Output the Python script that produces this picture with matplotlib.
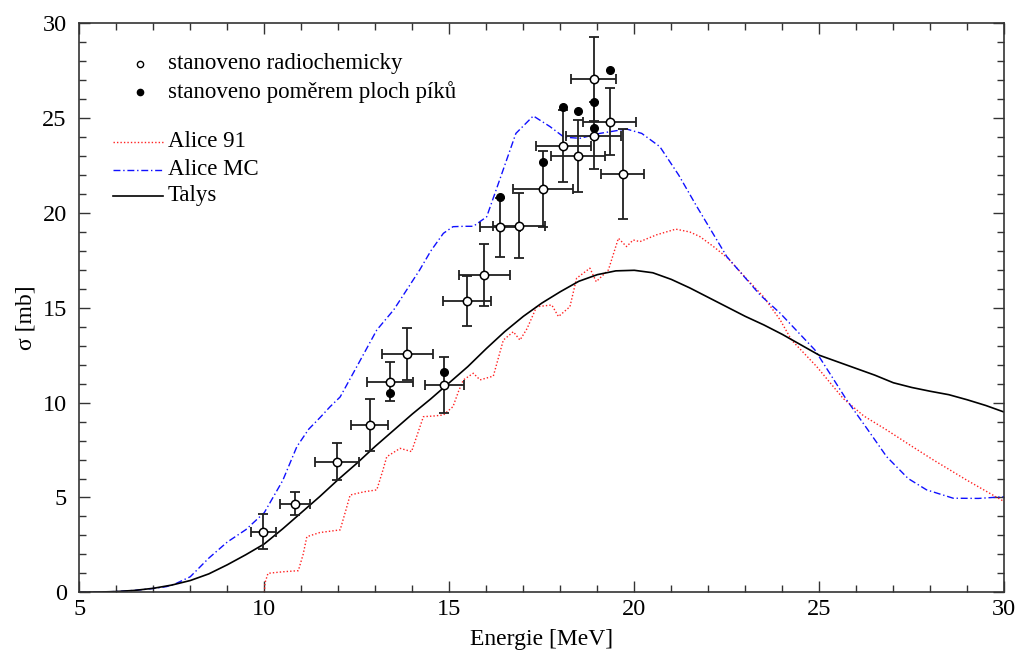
import matplotlib
matplotlib.use("Agg")
import matplotlib.pyplot as plt
from matplotlib.ticker import MultipleLocator

plt.rcParams["font.family"] = ["Liberation Serif", "DejaVu Serif"]

# experimental points - radiochemical determination (with errors)
rc_e = [9.97, 10.83, 11.96, 12.85, 13.39, 13.87, 14.87, 15.48, 15.95,
        16.37, 16.88, 17.53, 18.08, 18.48, 18.90, 18.90, 19.33, 19.69]
rc_s = [3.20, 4.67, 6.89, 8.82, 11.11, 12.57, 10.93, 15.36, 16.74,
        19.25, 19.34, 21.27, 23.52, 23.01, 27.07, 24.07, 24.82, 22.05]
rc_de = [0.34, 0.41, 0.60, 0.50, 0.62, 0.70, 0.54, 0.64, 0.70,
         0.54, 0.70, 0.82, 0.75, 0.73, 0.60, 0.74, 0.72, 0.58]
rc_ds = [0.91, 0.61, 0.98, 1.36, 1.04, 1.37, 1.49, 1.32, 1.64,
         1.55, 1.70, 2.02, 1.89, 1.92, 2.23, 1.76, 1.78, 2.39]

# experimental points - peak area ratio
pp_e = [13.39, 14.87, 16.37, 17.53, 18.08, 18.48, 18.90, 18.90, 19.33]
pp_s = [10.49, 11.64, 20.87, 22.68, 25.60, 25.38, 25.88, 24.47, 27.53]

# Talys
talys_e = [5.0, 5.5, 6.0, 6.5, 7.0, 7.5, 8.0, 8.5, 9.0, 9.5, 10.0, 10.5,
           11.0, 11.5, 12.0, 12.5, 13.0, 13.5, 14.0, 14.5, 15.0, 15.5, 16.0,
           16.5, 17.0, 17.5, 18.0, 18.5, 19.0, 19.5, 20.0, 20.5, 21.0, 21.5,
           22.0, 22.5, 23.0, 23.5, 24.0, 24.5, 25.0, 25.5, 26.0, 26.5, 27.0,
           27.5, 28.0, 28.5, 29.0, 29.5, 30.0]
talys_s = [0.0, 0.01, 0.04, 0.10, 0.21, 0.38, 0.62, 0.97, 1.45, 1.98, 2.55,
           3.35, 4.20, 5.05, 5.95, 6.80, 7.70, 8.55, 9.40, 10.20, 11.05,
           11.90, 12.85, 13.75, 14.55, 15.25, 15.85, 16.40, 16.75, 16.95,
           16.98, 16.85, 16.50, 16.05, 15.55, 15.05, 14.55, 14.10, 13.60,
           13.05, 12.50, 12.15, 11.80, 11.45, 11.05, 10.80, 10.60, 10.42,
           10.15, 9.85, 9.50]

# Alice MC
mc_e = [5.0, 5.5, 6.0, 6.5, 7.0, 7.36, 7.6, 8.0, 8.5, 9.0, 9.5, 10.0, 10.5,
        10.88, 11.2, 11.5, 11.78, 12.05, 12.5, 13.04, 13.5, 14.0, 14.2, 14.5,
        14.84, 15.1, 15.4, 15.65, 16.01, 16.37, 16.8, 17.27, 17.72, 18.1,
        18.53, 19.07, 19.79, 20.2, 20.69, 21.2, 21.69, 22.5, 23.4, 23.94,
        24.88, 25.74, 26.3, 26.82, 27.4, 27.9, 28.62, 29.3, 30.0]
mc_s = [0.0, 0.01, 0.04, 0.10, 0.20, 0.30, 0.45, 0.82, 1.80, 2.65, 3.30,
        4.20, 5.90, 7.68, 8.60, 9.20, 9.79, 10.30, 11.90, 13.83, 14.90,
        16.40, 17.00, 18.00, 18.93, 19.28, 19.30, 19.30, 19.80, 21.80,
        24.20, 25.12, 24.56, 24.00, 23.94, 24.20, 24.43, 24.20, 23.50,
        22.00, 20.34, 17.70, 15.68, 14.72, 12.78, 10.14, 8.60, 7.15, 6.00,
        5.40, 4.96, 4.95, 5.04]

# Alice 91
a91_e = [10.0, 10.02, 10.1, 10.5, 10.92, 11.05, 11.15, 11.5, 12.05, 12.2,
         12.32, 12.7, 13.04, 13.2, 13.31, 13.67, 13.98, 14.15, 14.3, 14.6,
         14.84, 15.1, 15.25, 15.38, 15.65, 15.83, 16.19, 16.46, 16.73,
         16.91, 17.1, 17.36, 17.77, 17.95, 18.26, 18.44, 18.8, 18.97, 19.3,
         19.57, 19.79, 19.97, 20.15, 20.6, 21.12, 21.5, 21.77, 22.14, 22.54,
         23.0, 23.49, 23.94, 24.25, 24.93, 25.64, 26.2, 26.82, 27.5, 28.08,
         28.98, 30.0]
a91_s = [0.0, 0.5, 1.0, 1.08, 1.14, 2.0, 2.93, 3.15, 3.29, 4.3, 5.13, 5.3,
         5.4, 6.4, 7.15, 7.59, 7.42, 8.4, 9.26, 9.3, 9.35, 9.79, 10.6, 11.2,
         11.55, 11.2, 11.4, 13.3, 13.74, 13.3, 13.9, 15.06, 15.15, 14.54,
         15.06, 16.56, 17.09, 16.38, 17.0, 18.67, 18.23, 18.58, 18.49,
         18.85, 19.15, 19.0, 18.76, 18.23, 17.6, 16.6, 15.59, 14.37, 13.3,
         11.9, 10.23, 9.3, 8.56, 7.7, 6.98, 5.92, 4.78]

fig = plt.figure(figsize=(10.19, 6.5), dpi=100)
ax = fig.add_axes([0.0778, 0.0888, 0.9078, 0.8752])

ax.plot(a91_e, a91_s, color="#ff2020", lw=1.0, ls=(0, (1, 1.5)))
ax.plot(mc_e, mc_s, color="#1010ff", lw=1.0, ls=(0, (5, 2, 1, 2)))
ax.plot(talys_e, talys_s, color="black", lw=1.2)

ax.errorbar(rc_e, rc_s, xerr=rc_de, yerr=rc_ds, fmt="none", ecolor="#202020",
            elinewidth=1.3, capsize=3.5, capthick=1.3, zorder=3)
ax.plot(rc_e, rc_s, "o", ms=6, mfc="white", mec="black", mew=1.1, zorder=4)
ax.plot(pp_e, pp_s, "o", ms=5.5, mfc="black", mec="black", zorder=4)

ax.set_xlim(5, 30)
ax.set_ylim(0, 30)
ax.xaxis.set_major_locator(MultipleLocator(5))
ax.xaxis.set_minor_locator(MultipleLocator(1))
ax.yaxis.set_major_locator(MultipleLocator(5))
ax.yaxis.set_minor_locator(MultipleLocator(1))
ax.tick_params(which="both", direction="in", top=True, right=True,
               labelsize=17.5, color="#333333")
ax.tick_params(which="major", length=8, width=1)
ax.tick_params(which="minor", length=5, width=1)
ax.tick_params(axis="x", pad=5)
ax.tick_params(axis="y", pad=9)
for sp in ax.spines.values():
    sp.set_color("#333333")
    sp.set_linewidth(1.2)

ax.set_xlabel("Energie [MeV]", fontsize=17)
ax.set_ylabel("σ [mb]", fontsize=17)
ax.xaxis.set_label_coords(0.5, -0.064)
ax.yaxis.set_label_coords(-0.046, 0.482)

# legend, drawn by hand
tr = ax.transAxes
ax.plot([0.0656], [0.9287], "o", ms=4.5, mfc="white", mec="black",
        transform=tr, clip_on=False)
ax.plot([0.0656], [0.8795], "o", ms=4.5, mfc="black", mec="black",
        transform=tr, clip_on=False)
ax.plot([0.0365, 0.0905], [0.7916, 0.7916], color="#ff2020", lw=1.0,
        ls=(0, (1, 1.5)), transform=tr)
ax.plot([0.0365, 0.0905], [0.7424, 0.7424], color="#1010ff", lw=1.0,
        ls=(0, (5, 2, 1, 2)), transform=tr)
ax.plot([0.0365, 0.0905], [0.6967, 0.6967], color="black", lw=1.2,
        transform=tr)
legend_rows = [("stanoveno radiochemicky", 0.9287),
               ("stanoveno poměrem ploch píků", 0.8795),
               ("Alice 91", 0.7916),
               ("Alice MC", 0.7424),
               ("Talys", 0.6967)]
for label, yy in legend_rows:
    ax.text(0.0959, yy, label, transform=tr, fontsize=16.5, va="center",
            ha="left")

fig.savefig("out.png", dpi=100)
